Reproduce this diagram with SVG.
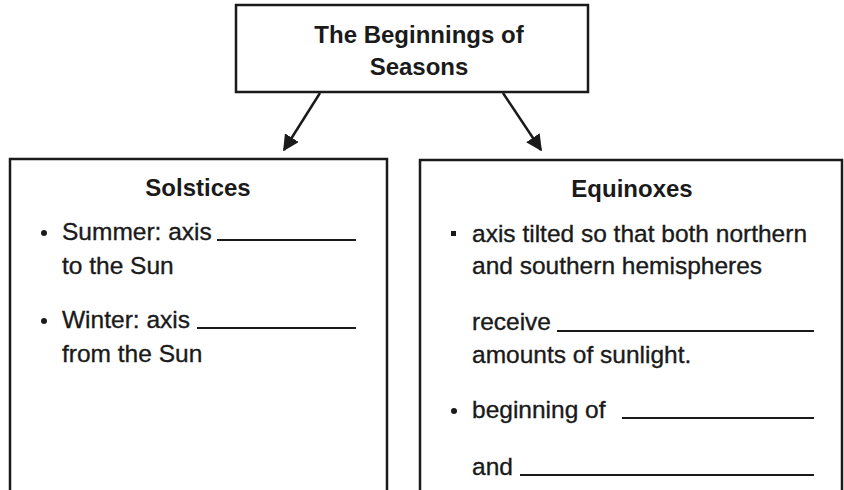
<svg xmlns="http://www.w3.org/2000/svg" width="844" height="490" viewBox="0 0 844 490">
<defs>
<marker id="ah" viewBox="0 0 10 10" refX="9" refY="5" markerWidth="6.5" markerHeight="6.5" orient="auto" markerUnits="strokeWidth">
<path d="M0,0 L10,5 L0,10 z" fill="#1a1a1a"/>
</marker>
<style>
.box{fill:#fff;stroke:#1a1a1a;stroke-width:2.5}
.t{font-family:"Liberation Sans",Arial,sans-serif;fill:#1a1a1a}
.h{font-weight:bold;font-size:24px;text-anchor:middle}
.b{font-size:24.5px;stroke:#1a1a1a;stroke-width:0.35}
.blank{stroke:#1a1a1a;stroke-width:1.8}
.conn{stroke:#1a1a1a;stroke-width:2.5;fill:none}
</style>
</defs>
<rect width="844" height="490" fill="#fff"/>
<g id="top">
<rect class="box" x="236" y="5" width="352" height="87"/>
<text class="t h" x="419" y="43">The Beginnings of</text>
<text class="t h" x="419" y="75">Seasons</text>
</g>
<g id="connectors">
<line class="conn" x1="320" y1="93" x2="284" y2="150" marker-end="url(#ah)"/>
<line class="conn" x1="503" y1="93" x2="541" y2="150" marker-end="url(#ah)"/>
</g>
<g id="solstices">
<path class="box" d="M10,495 V159 H387 V495"/>
<text class="t h" x="198" y="196">Solstices</text>
<circle cx="44" cy="233" r="3" fill="#1a1a1a"/>
<text class="t b" x="62" y="240">Summer: axis</text>
<line class="blank" x1="217" y1="240" x2="356" y2="240"/>
<text class="t b" x="62" y="274">to the Sun</text>
<circle cx="44" cy="321" r="3" fill="#1a1a1a"/>
<text class="t b" x="62" y="328">Winter: axis</text>
<line class="blank" x1="197" y1="328" x2="356" y2="328"/>
<text class="t b" x="62" y="362">from the Sun</text>
</g>
<g id="equinoxes">
<path class="box" d="M420,495 V160 H842 V495"/>
<text class="t h" x="632" y="197">Equinoxes</text>
<rect x="451" y="231" width="5" height="5" fill="#1a1a1a"/>
<text class="t b" x="472" y="242">axis tilted so that both northern</text>
<text class="t b" x="472" y="274">and southern hemispheres</text>
<text class="t b" x="472" y="330">receive</text>
<line class="blank" x1="557" y1="331" x2="814" y2="331"/>
<text class="t b" x="472" y="363">amounts of sunlight.</text>
<circle cx="454" cy="411" r="3" fill="#1a1a1a"/>
<text class="t b" x="472" y="418">beginning of</text>
<line class="blank" x1="622" y1="418" x2="814" y2="418"/>
<text class="t b" x="472" y="475">and</text>
<line class="blank" x1="520" y1="475" x2="814" y2="475"/>
</g>
</svg>
